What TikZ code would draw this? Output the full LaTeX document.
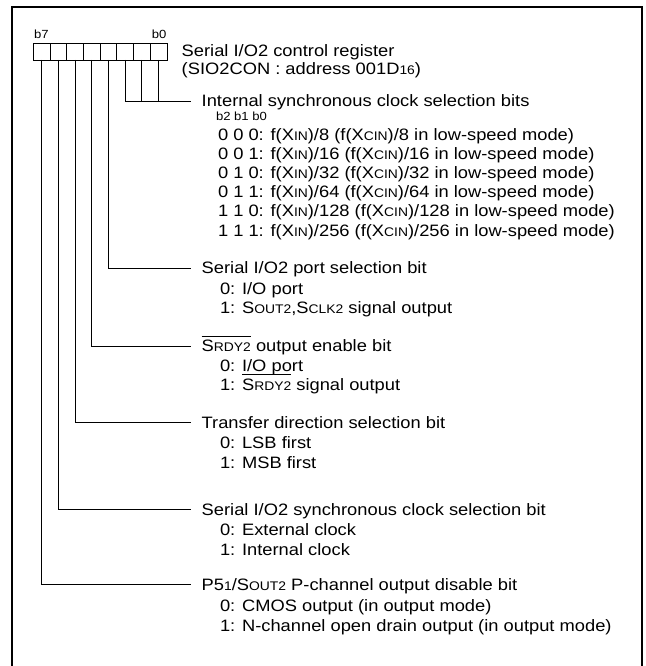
\documentclass[tikz,border=0pt]{standalone}
\usepackage{fontspec}
\setmainfont{Liberation Sans}[FakeStretch=1.11]
\newcommand\smc[1]{{\fontsize{12.5}{13}\selectfont #1}}
\newcommand\ovlR[1]{\setbox0\hbox{#1}\rlap{\rule[14.8pt]{\wd0}{0.9pt}}\box0\relax}
\begin{document}
\begin{tikzpicture}[x=1pt,y=-1pt,
  every node/.style={inner sep=0pt,outer sep=0pt,font=\fontsize{16.5}{19}\selectfont},
  bitbox/.style={draw,line width=0.9pt,minimum width=16.7pt,minimum height=17pt},
  txt/.style={anchor=base west},
  tiny/.style={font=\fontsize{11.8}{12}\selectfont},
  conn/.style={line width=0.9pt}]
\useasboundingbox (0,0) rectangle (645,666);
% frame
\draw[line width=2.4pt] (12,666) -- (12,7) -- (642,7) -- (642,666);
% register boxes
\foreach \i/\b in {0/7,1/6,2/5,3/4,4/3,5/2,6/1,7/0}{
  \node[bitbox] (r\b) at ({41.7+\i*16.7},51.5) {};
}
\node[tiny,anchor=base west] (lb7) at (34,39) {b7};
\node[tiny,anchor=base east] (lb0) at (166.5,39) {b0};
\node[txt] (t1) at (181.7,56.5) {Serial I/O2 control register};
\node[txt] (t2) at (181.7,74.5) {(SIO2CON : address 001D\smc{16})};
% group bits 0-2
\coordinate (e0) at (191,101);
\draw[conn] (r2.south) |- (e0);
\draw[conn] (r1.south) -- (r1.south |- e0);
\draw[conn] (r0.south) -- (r0.south |- e0);
\node[txt] (h0) at (201.7,106.8) {Internal synchronous clock selection bits};
\node[txt,tiny] (s0) at (216,120.5) {b2 b1 b0};
\node[txt] (i00) at (218,140) {0 0 0: f(X\smc{IN})/8 (f(X\smc{CIN})/8 in low-speed mode)};
\node[txt] (i01) at (218,159.2) {0 0 1: f(X\smc{IN})/16 (f(X\smc{CIN})/16 in low-speed mode)};
\node[txt] (i02) at (218,178.4) {0 1 0: f(X\smc{IN})/32 (f(X\smc{CIN})/32 in low-speed mode)};
\node[txt] (i03) at (218,197.6) {0 1 1: f(X\smc{IN})/64 (f(X\smc{CIN})/64 in low-speed mode)};
\node[txt] (i04) at (218,216.8) {1 1 0: f(X\smc{IN})/128 (f(X\smc{CIN})/128 in low-speed mode)};
\node[txt] (i05) at (218,236) {1 1 1: f(X\smc{IN})/256 (f(X\smc{CIN})/256 in low-speed mode)};
% bit 3
\coordinate (e3) at (191,268);
\draw[conn] (r3.south) |- (e3);
\node[txt] (h3) at (201.7,273.8) {Serial I/O2 port selection bit};
\node[txt] (i30) at (220,294) {0: I/O port};
\node[txt] (i31) at (220,313.5) {1: S\smc{OUT2},S\smc{CLK2} signal output};
% bit 4
\coordinate (e4) at (191,346);
\draw[conn] (r4.south) |- (e4);
\node[txt] (h4) at (201.7,351.8) {\ovlR{S\smc{RDY2}} output enable bit};
\node[txt] (i40) at (220,371) {0: I/O port};
\node[txt] (i41) at (220,390) {1: \ovlR{S\smc{RDY2}} signal output};
% bit 5
\coordinate (e5) at (191,422.7);
\draw[conn] (r5.south) |- (e5);
\node[txt] (h5) at (201.7,428.5) {Transfer direction selection bit};
\node[txt] (i50) at (220,448.5) {0: LSB first};
\node[txt] (i51) at (220,468.5) {1: MSB first};
% bit 6
\coordinate (e6) at (191,509.3);
\draw[conn] (r6.south) |- (e6);
\node[txt] (h6) at (201.7,515) {Serial I/O2 synchronous clock selection bit};
\node[txt] (i60) at (220,535) {0: External clock};
\node[txt] (i61) at (220,555) {1: Internal clock};
% bit 7
\coordinate (e7) at (191,584.3);
\draw[conn] (r7.south) |- (e7);
\node[txt] (h7) at (201.7,590) {P5\smc{1}/S\smc{OUT2} P-channel output disable bit};
\node[txt] (i70) at (220,611.5) {0: CMOS output (in output mode)};
\node[txt] (i71) at (220,631) {1: N-channel open drain output (in output mode)};
\end{tikzpicture}
\end{document}
